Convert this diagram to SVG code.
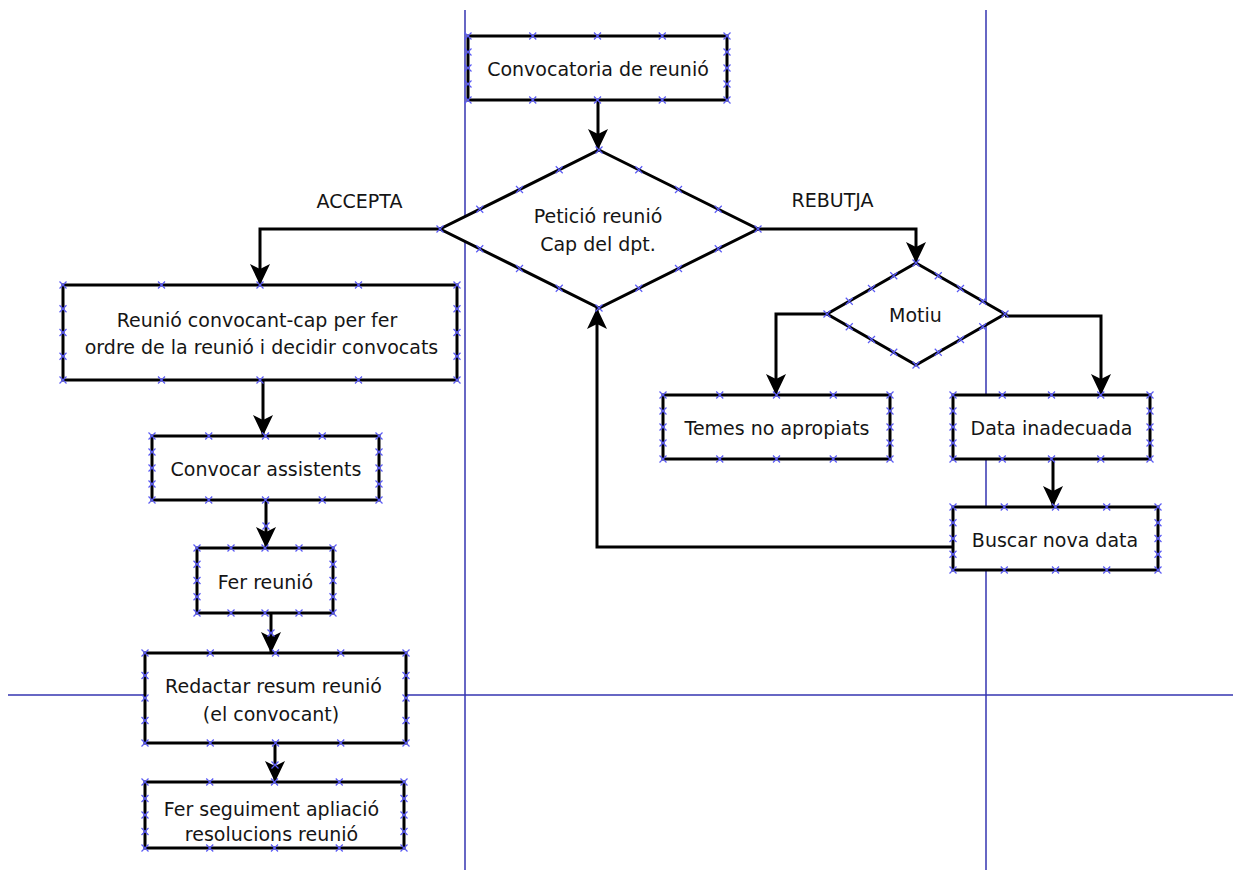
<svg xmlns="http://www.w3.org/2000/svg" xmlns:xlink="http://www.w3.org/1999/xlink" width="1235" height="878" viewBox="0 0 1235 878">
  <style>
    .node { fill: #ffffff; stroke: #000000; stroke-width: 3; }
    .conn { fill: none; stroke: #000000; stroke-width: 3; }
    .lane { fill: none; stroke: #3535b0; stroke-width: 1.5; }
    .pts { fill: none; stroke: none; marker-start: url(#xpt); marker-mid: url(#xpt); marker-end: url(#xpt); }
    text { font-family: "DejaVu Sans", Verdana, sans-serif; font-size: 19px; fill: #151515; text-anchor: middle; }
  </style>
  <defs>
    <marker id="arrow" markerUnits="userSpaceOnUse" viewBox="-22 -11 24 22" refX="0" refY="0" markerWidth="24" markerHeight="22" orient="auto">
      <path d="M0,0 L-21,-10 L-16,0 L-21,10 Z" fill="#000000"/>
    </marker>
    <!-- small blue cross used for the connection points -->
    <marker id="xpt" markerUnits="userSpaceOnUse" viewBox="-5 -5 10 10" refX="0" refY="0" markerWidth="10" markerHeight="10" orient="0">
      <path d="M-3.5,-3.5 L3.5,3.5 M-3.5,3.5 L3.5,-3.5" stroke="#5a5af5" stroke-width="1.2" fill="none"/>
    </marker>
  </defs>

  <rect width="1235" height="878" fill="#ffffff"/>

  <!-- lane dividers -->
  <g id="lanes">
    <line class="lane" x1="465" y1="10" x2="465" y2="870"/>
    <line class="lane" x1="986" y1="10" x2="986" y2="870"/>
    <line class="lane" x1="8" y1="695" x2="1233" y2="695"/>
  </g>

  <!-- connectors -->
  <g id="connectors">
    <path class="conn" d="M598,100 V150" marker-end="url(#arrow)"/>
    <path class="conn" d="M440,229 H260 V285" marker-end="url(#arrow)"/>
    <path class="conn" d="M758,229 H916 V263" marker-end="url(#arrow)"/>
    <path class="conn" d="M263,380 V436" marker-end="url(#arrow)"/>
    <path class="conn" d="M266,500 V548" marker-end="url(#arrow)"/>
    <path class="conn" d="M271,613 V653" marker-end="url(#arrow)"/>
    <path class="conn" d="M275,743 V782" marker-end="url(#arrow)"/>
    <path class="conn" d="M827,314 H776 V395" marker-end="url(#arrow)"/>
    <path class="conn" d="M1005,316 H1101 V395" marker-end="url(#arrow)"/>
    <path class="conn" d="M1053,459 V507" marker-end="url(#arrow)"/>
    <path class="conn" d="M953,547 H597 V308" marker-end="url(#arrow)"/>
    <path class="pts" d="M266,526 M271,633 M275,765"/>
    <text x="359.5" y="208">ACCEPTA</text>
    <text x="832.5" y="207">REBUTJA</text>
  </g>

  <g id="n-convocatoria">
    <rect class="node" x="468" y="36" width="259" height="64"/>
    <path class="pts" d="M468,36 L532.75,36 L597.5,36 L662.25,36 L727,36 L727,52 L727,68 L727,84 L727,100 L662.25,100 L597.5,100 L532.75,100 L468,100 L468,84 L468,68 L468,52"/>
    <text x="598" y="76">Convocatoria de reunió</text>
  </g>

  <g id="n-peticio">
    <path class="node" d="M599,150 L758,229 L599,308 L440,229 Z"/>
    <path class="pts" d="M599,150 L638.75,169.75 L678.5,189.5 L718.25,209.25 L758,229 L718.25,248.75 L678.5,268.5 L638.75,288.25 L599,308 L559.25,288.25 L519.5,268.5 L479.75,248.75 L440,229 L479.75,209.25 L519.5,189.5 L559.25,169.75"/>
    <text x="598" y="223">Petició reunió</text>
    <text x="598" y="251">Cap del dpt.</text>
  </g>

  <g id="n-reunio-cap">
    <rect class="node" x="63" y="285" width="394" height="95"/>
    <path class="pts" d="M63,285 L161.5,285 L260,285 L358.5,285 L457,285 L457,308.75 L457,332.5 L457,356.25 L457,380 L358.5,380 L260,380 L161.5,380 L63,380 L63,356.25 L63,332.5 L63,308.75"/>
    <text x="257" y="327">Reunió convocant-cap per fer</text>
    <text x="261.5" y="354">ordre de la reunió i decidir convocats</text>
  </g>

  <g id="n-convocar">
    <rect class="node" x="152" y="436" width="227" height="64"/>
    <path class="pts" d="M152,436 L208.75,436 L265.5,436 L322.25,436 L379,436 L379,452 L379,468 L379,484 L379,500 L322.25,500 L265.5,500 L208.75,500 L152,500 L152,484 L152,468 L152,452"/>
    <text x="266" y="476">Convocar assistents</text>
  </g>

  <g id="n-fer-reunio">
    <rect class="node" x="197" y="548" width="136" height="65"/>
    <path class="pts" d="M197,548 L231,548 L265,548 L299,548 L333,548 L333,564.25 L333,580.5 L333,596.75 L333,613 L299,613 L265,613 L231,613 L197,613 L197,596.75 L197,580.5 L197,564.25"/>
    <text x="265.5" y="589">Fer reunió</text>
  </g>

  <g id="n-redactar">
    <rect class="node" x="145" y="653" width="261" height="90"/>
    <path class="pts" d="M145,653 L210.25,653 L275.5,653 L340.75,653 L406,653 L406,675.5 L406,698 L406,720.5 L406,743 L340.75,743 L275.5,743 L210.25,743 L145,743 L145,720.5 L145,698 L145,675.5"/>
    <text x="273.5" y="693">Redactar resum reunió</text>
    <text x="271" y="721">(el convocant)</text>
  </g>

  <g id="n-seguiment">
    <rect class="node" x="145" y="782" width="259" height="66"/>
    <path class="pts" d="M145,782 L209.75,782 L274.5,782 L339.25,782 L404,782 L404,798.5 L404,815 L404,831.5 L404,848 L339.25,848 L274.5,848 L209.75,848 L145,848 L145,831.5 L145,815 L145,798.5"/>
    <text x="271.5" y="816">Fer seguiment apliació</text>
    <text x="271.5" y="841">resolucions reunió</text>
  </g>

  <g id="n-motiu">
    <path class="node" d="M916,263 L1005,314 L916,365 L827,314 Z"/>
    <path class="pts" d="M916,263 L938.25,275.75 L960.5,288.5 L982.75,301.25 L1005,314 L982.75,326.75 L960.5,339.5 L938.25,352.25 L916,365 L893.75,352.25 L871.5,339.5 L849.25,326.75 L827,314 L849.25,301.25 L871.5,288.5 L893.75,275.75"/>
    <text x="915.5" y="322">Motiu</text>
  </g>

  <g id="n-temes">
    <rect class="node" x="663" y="395" width="227" height="64"/>
    <path class="pts" d="M663,395 L719.75,395 L776.5,395 L833.25,395 L890,395 L890,411 L890,427 L890,443 L890,459 L833.25,459 L776.5,459 L719.75,459 L663,459 L663,443 L663,427 L663,411"/>
    <text x="777" y="435">Temes no apropiats</text>
  </g>

  <g id="n-data">
    <rect class="node" x="953" y="395" width="197" height="64"/>
    <path class="pts" d="M953,395 L1002.25,395 L1051.5,395 L1100.75,395 L1150,395 L1150,411 L1150,427 L1150,443 L1150,459 L1100.75,459 L1051.5,459 L1002.25,459 L953,459 L953,443 L953,427 L953,411"/>
    <text x="1051.5" y="435">Data inadecuada</text>
  </g>

  <g id="n-buscar">
    <rect class="node" x="953" y="507" width="205" height="63"/>
    <path class="pts" d="M953,507 L1004.25,507 L1055.5,507 L1106.75,507 L1158,507 L1158,522.75 L1158,538.5 L1158,554.25 L1158,570 L1106.75,570 L1055.5,570 L1004.25,570 L953,570 L953,554.25 L953,538.5 L953,522.75"/>
    <text x="1055" y="547">Buscar nova data</text>
  </g>
</svg>
